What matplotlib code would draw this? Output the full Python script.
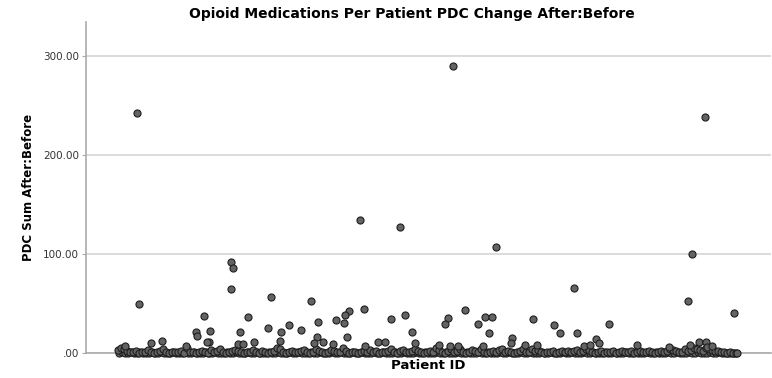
import matplotlib
matplotlib.use("Agg")
import matplotlib.pyplot as plt
import numpy as np

# Patients well above the baseline band: (patient id, PDC sum after:before)
outlier_ids = [21, 23, 337, 589, 244, 284, 380, 576, 115, 117, 115, 155, 195,
               248, 233, 229, 220, 228, 231, 202, 185, 173, 165, 152, 132, 124,
               94, 88, 80, 81, 93, 46, 35, 275, 289, 296, 299, 138, 164, 201,
               198, 207, 217, 122, 127, 262, 269, 249, 91, 70, 9,
               458, 572, 618, 349, 332, 329, 369, 376, 362, 373, 417, 438, 444,
               461, 493, 480, 483, 396, 395, 323, 334, 342, 367, 409, 421, 521,
               553, 574, 583, 590, 591, 596, 468, 474, 621]
outlier_vals = [242, 49, 290, 238, 134, 127, 107, 100, 92, 86, 65, 57, 52,
                44, 42, 38, 33, 30, 16, 31, 23, 28, 21, 25, 36, 21,
                22.5, 37, 21, 17, 11, 12, 10, 34, 38, 21, 10, 11, 12, 16,
                10, 11, 9, 9, 9, 11, 11, 7, 11, 7, 7,
                66, 52, 40, 43, 35, 29, 36, 36, 29, 20, 34, 28, 20,
                20.5, 29, 14, 10, 15.5, 10.5, 8, 7, 7, 7, 8, 8, 8,
                6, 8, 11, 11, 6, 7, 7, 8, 0]

# Dense band of patients with little or no change
base_ids = np.arange(2, 621, 3)
base_vals = [
    3, 5, 4, 2, 1, 1, 2, 0, 1, 1, 3, 1, 0, 1, 2, 4, 1, 0, 1, 1,
    1, 2, 0, 5, 1, 1, 0, 1, 2, 1, 0, 3, 1, 2, 4, 1, 0, 1, 2, 3,
    2, 1, 0, 1, 1, 3, 1, 0, 2, 1, 0, 1, 2, 5, 4, 1, 0, 1, 2, 1,
    1, 2, 3, 1, 0, 1, 4, 2, 1, 0, 1, 3, 2, 1, 1, 5, 2, 0, 1, 1,
    0, 1, 2, 1, 3, 1, 2, 0, 1, 1, 2, 4, 1, 0, 2, 3, 1, 1, 2, 4,
    2, 1, 0, 1, 2, 1, 5, 3, 1, 0, 2, 4, 1, 2, 4, 1, 0, 1, 3, 2,
    1, 4, 1, 0, 1, 2, 1, 3, 4, 1, 2, 1, 0, 1, 2, 4, 1, 1, 4, 2,
    3, 1, 0, 1, 1, 2, 0, 1, 2, 1, 2, 1, 2, 3, 1, 2, 4, 3, 1, 0,
    1, 2, 0, 1, 1, 2, 0, 1, 2, 1, 1, 2, 0, 1, 2, 1, 1, 2, 1, 0,
    1, 2, 1, 2, 4, 3, 2, 1, 1, 4, 2, 3, 5, 4, 3, 2, 5, 4, 3, 2,
    2, 1, 1, 0, 1, 0, 0,
]
zero_ids = np.arange(3, 621, 3)
zero_vals = [
    0, 1, 0, 0, 1, 0, 0, 1, 0, 0, 0, 1, 0, 0, 1, 0, 0, 0, 1, 0,
    0, 0, 1, 0, 0, 1, 0, 0, 0, 1, 0, 0, 1, 0, 0, 0, 1, 0, 0, 1,
    0, 0, 0, 1, 0, 0, 1, 0, 0, 0, 1, 0, 0, 1, 0, 0, 0, 1, 0, 0,
    1, 0, 0, 0, 1, 0, 0, 1, 0, 0, 0, 1, 0, 0, 1, 0, 0, 0, 1, 0,
    0, 1, 0, 0, 0, 1, 0, 0, 1, 0, 0, 0, 1, 0, 0, 1, 0, 0, 0, 1,
    0, 0, 1, 0, 0, 0, 1, 0, 0, 1, 0, 0, 0, 1, 0, 0, 1, 0, 0, 0,
    1, 0, 0, 1, 0, 0, 0, 1, 0, 0, 1, 0, 0, 0, 1, 0, 0, 1, 0, 0,
    0, 1, 0, 0, 1, 0, 0, 0, 1, 0, 0, 1, 0, 0, 0, 1, 0, 0, 1, 0,
    0, 0, 1, 0, 0, 1, 0, 0, 0, 1, 0, 0, 1, 0, 0, 0, 1, 0, 0, 1,
    0, 0, 0, 1, 0, 0, 1, 0, 0, 0, 1, 0, 0, 1, 0, 0, 0, 1, 0, 0,
    1, 0, 0, 0, 0, 0,
]

yticks = [0, 100, 200, 300]
ytick_labels = [".00", "100.00", "200.00", "300.00"]

fig = plt.figure(figsize=(7.72, 3.78), dpi=100)
ax = fig.add_axes([0.1114, 0.0661, 0.8873, 0.8757])

ax.yaxis.grid(True, color="#dcdcdc", linewidth=1.4)
ax.set_axisbelow(True)

style = dict(s=26, facecolor="#636363", edgecolor="#1e1e1e", linewidths=0.8,
             clip_on=False, zorder=3)
ax.scatter(zero_ids, zero_vals, **style)
ax.scatter(base_ids, base_vals, **style)
ax.scatter(outlier_ids, outlier_vals, **style)

ax.set_xlim(-30, 655)
ax.set_ylim(0, 334)
ax.set_xticks([])
ax.set_yticks(yticks)
ax.set_yticklabels(ytick_labels)
ax.tick_params(axis="y", length=3, color="#aaaaaa", labelsize=7.5,
               labelcolor="#333333", pad=2)

for side in ["top", "right"]:
    ax.spines[side].set_visible(False)
for side in ["left", "bottom"]:
    ax.spines[side].set_color("#aaaaaa")
    ax.spines[side].set_linewidth(1.2)

fig.text(0.534, 0.962, "Opioid Medications Per Patient PDC Change After:Before",
         ha="center", va="center", fontsize=10, fontweight="bold")
ax.set_ylabel("PDC Sum After:Before", fontsize=8.5, fontweight="bold", labelpad=6)
ax.set_xlabel("Patient ID", fontsize=9.5, fontweight="bold", labelpad=4)

fig.savefig("out.png", dpi=100)
